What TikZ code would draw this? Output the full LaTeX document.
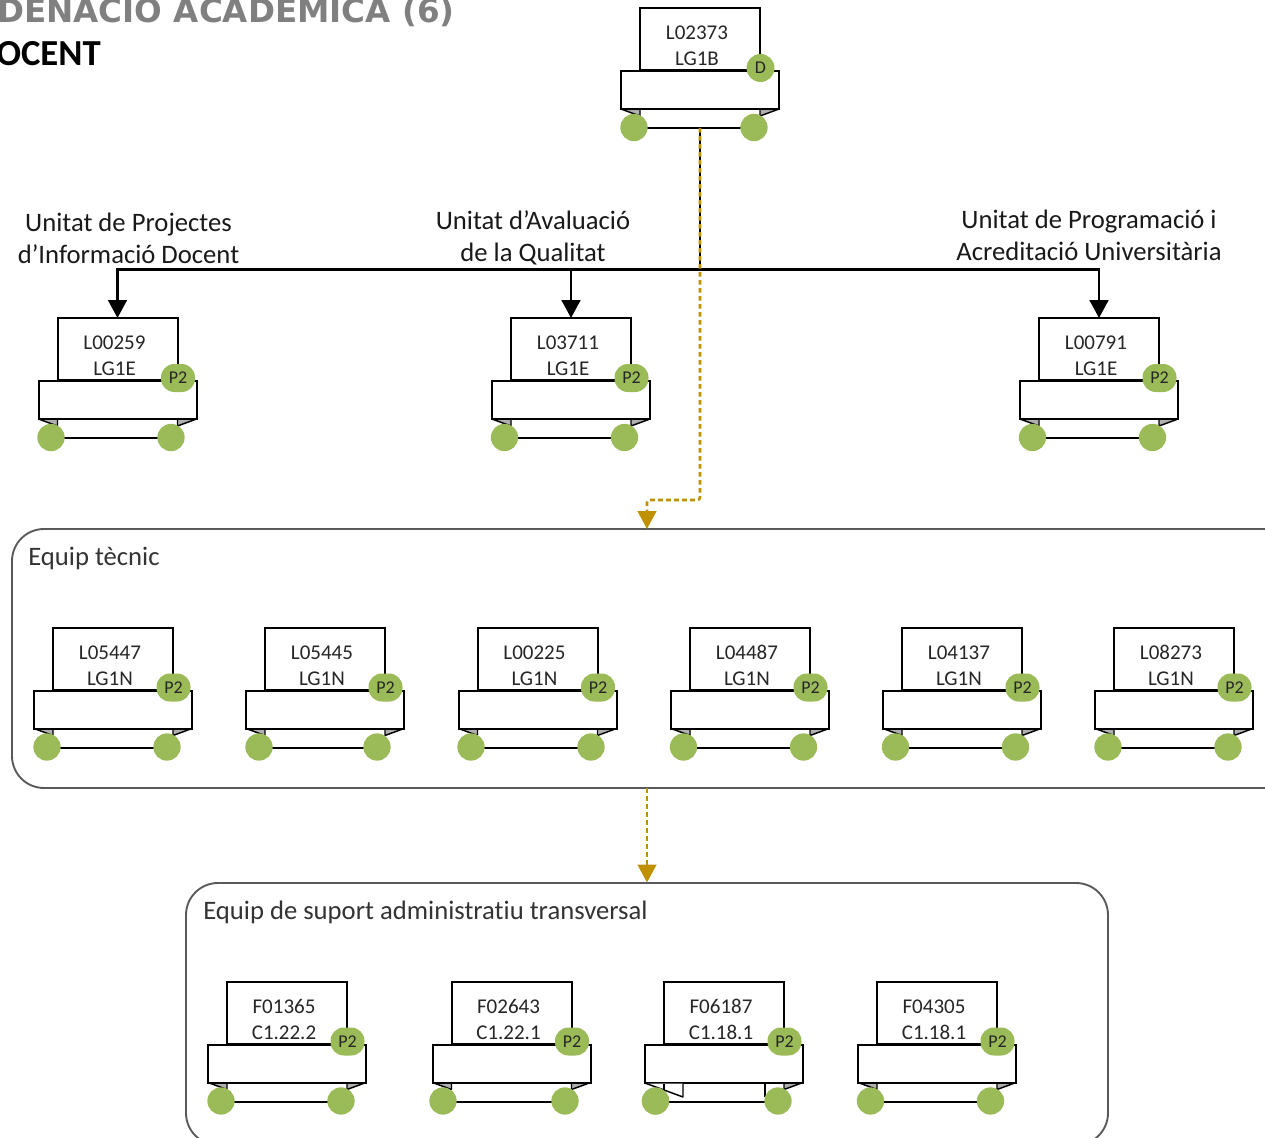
\documentclass[tikz,border=0pt]{standalone}
\usepackage{fontspec}
\setmainfont[Ligatures=NoCommon]{Carlito}
\newfontfamily\titlefont{DejaVu Sans}
\usetikzlibrary{arrows.meta}
\definecolor{leaf}{HTML}{9BBB59}
\definecolor{gold}{HTML}{BF9000}
\definecolor{groupline}{HTML}{595959}
\definecolor{flap}{HTML}{B0B0B0}
\tikzset{
  pagebox/.style={draw=black,line width=1.5pt,fill=white,minimum width=90pt,minimum height=46.5pt,inner sep=0pt,outer sep=0pt},
  barbox/.style={draw=black,line width=1.5pt,fill=white,minimum width=118.5pt,minimum height=28.5pt,inner sep=0pt,outer sep=0pt},
  wheel/.style={circle,fill=leaf,minimum size=20.5pt,inner sep=0pt},
  badgeP/.style={fill=leaf,rounded corners=10pt,minimum width=25.5pt,minimum height=21pt,inner sep=0pt,font=\fontsize{13.5pt}{15pt}\selectfont,text=black!85},
  badgeD/.style={circle,fill=leaf,minimum size=21pt,inner sep=0pt,font=\fontsize{13.5pt}{15pt}\selectfont,text=black!85},
  boxtext/.style={align=center,font=\fontsize{15.75pt}{19.5pt}\selectfont,text=black!85,inner sep=0pt},
  caption/.style={align=center,font=\fontsize{20pt}{24pt}\selectfont,text=black!90,inner sep=0pt},
  grouptitle/.style={anchor=west,font=\fontsize{20pt}{22pt}\selectfont,text=black!80,inner sep=0pt},
  groupbox/.style={draw=groupline,line width=1.4pt,rounded corners=24pt,inner sep=0pt,outer sep=0pt},
  flapfill/.style={fill=flap},
  flapedge/.style={draw=black,line width=1.1pt,line join=bevel},
  footline/.style={draw=black,line width=1.5pt},
  solidlink/.style={draw=black,line width=2.2pt},
  solidarrow/.style={solidlink,-{Triangle[length=13.5pt,width=14pt]}},
  goldlink/.style={draw=gold,line width=2pt,dash pattern=on 3.5pt off 2.5pt},
  goldarrow/.style={goldlink,-{Triangle[length=13.5pt,width=14pt,fill=gold,sep=0pt]}},
}
% name, page x, page y, left wheel x, right wheel x, line 1, line 2, badge style, badge text
\newcommand{\orgbox}[9]{%
  \fill[flapfill] (#2-19,#3+101) -- (#2,#3+108) -- (#2,#3+101) -- cycle;
  \fill[flapfill] (#2+139,#3+101) -- (#2+120,#3+108) -- (#2+120,#3+101) -- cycle;
  \path[flapedge] (#2-19,#3+101) -- (#2,#3+108) -- (#2,#3+101);
  \path[flapedge] (#2+139,#3+101) -- (#2+120,#3+108) -- (#2+120,#3+101);
  \path[footline] (#4,#3+120) -- (#5,#3+120);
  \node[pagebox] (#1-page) at (#2+60,#3+31) {};
  \node[barbox] (#1-bar) at (#2+60,#3+82) {};
  \node[boxtext] (#1-text) at (#2+57,#3+38) {#6\\#7};
  \node[wheel] (#1-left) at (#4,#3+119.5) {};
  \node[wheel] (#1-right) at (#5,#3+119.5) {};
  \node[#8] (#1-badge) at (#2+120.5,#3+60) {#9};
  \coordinate (#1-foot) at (#2+60,#3+120);
}
\begin{document}
\begin{tikzpicture}[x=0.75pt,y=-0.75pt]
\useasboundingbox (0,0) rectangle (1265,1138);
\begin{scope}
\clip (0,0) rectangle (1265,1138);

% headings
\node[anchor=base west,inner sep=0pt,text=black!50,font=\titlefont\bfseries\fontsize{24.4pt}{28pt}\selectfont] (heading) at (-3,23) {DENACIO ACADEMICA (6)};
\node[anchor=base west,inner sep=0pt,font=\bfseries\fontsize{27.5pt}{30pt}\selectfont] (subheading) at (-4,66) {OCENT};

% groups
\node[groupbox,minimum width=1290*0.75pt,minimum height=259*0.75pt] (team) at (657,658.5) {};
\node[groupbox,minimum width=922*0.75pt,minimum height=262*0.75pt] (support) at (647,1014) {};
\node[grouptitle] (teamtitle) at (28,558) {Equip tècnic};
\node[grouptitle] (supporttitle) at (203,912) {Equip de suport administratiu transversal};

% boxes
\orgbox{top}{640}{8}{634}{754}{L02373}{LG1B}{badgeD}{D}
\orgbox{aa}{57.5}{318}{51}{171}{L00259}{LG1E}{badgeP}{P2}
\orgbox{ab}{511}{318}{504.5}{624.5}{L03711}{LG1E}{badgeP}{P2}
\orgbox{ac}{1039}{318}{1032.5}{1152.5}{L00791}{LG1E}{badgeP}{P2}

\orgbox{ba}{53}{627.5}{47}{167}{L05447}{LG1N}{badgeP}{P2}
\orgbox{bb}{265}{627.5}{259}{377}{L05445}{LG1N}{badgeP}{P2}
\orgbox{bc}{477.5}{627.5}{471}{591}{L00225}{LG1N}{badgeP}{P2}
\orgbox{bd}{690}{627.5}{683.5}{803.5}{L04487}{LG1N}{badgeP}{P2}
\orgbox{be}{902}{627.5}{895.5}{1015.5}{L04137}{LG1N}{badgeP}{P2}
\orgbox{bf}{1114}{627.5}{1108}{1228}{L08273}{LG1N}{badgeP}{P2}

\orgbox{ca}{227}{981.5}{221}{341}{F01365}{C1.22.2}{badgeP}{P2}
\orgbox{cb}{451.5}{981.5}{443}{565}{F02643}{C1.22.1}{badgeP}{P2}
% F06187: wider inner fold
\draw[line width=1.5pt] (765,1083) -- (765,1097);
\orgbox{cc}{664}{981.5}{655.5}{778}{F06187}{C1.18.1}{badgeP}{P2}
\fill[white] (645,1083.5) -- (683,1097) -- (683,1083.5) -- cycle;
\draw[line width=1.1pt,line join=bevel] (645,1083) -- (683,1097) -- (683,1083.5);
\draw[line width=1.5pt] (664,1084) -- (664,1090.5);
\node[wheel] (cc-left2) at (655.5,1101) {};
\orgbox{cd}{877}{981.5}{870.5}{990.5}{F04305}{C1.18.1}{badgeP}{P2}

% captions
\node[caption] (capa) at (128.5,238) {Unitat de Projectes\\d’Informació Docent};
\node[caption] (capb) at (533,237.5) {Unitat d’Avaluació\\de la Qualitat};
\node[caption] (capc) at (1089,235) {Unitat de Programació i\\Acreditació Universitària};

% connectors
\coordinate (junction) at (700,269.5);
\coordinate (bend) at (700,500);
\coordinate (teamin) at (647,529);
\coordinate (teamout) at (647,788);
\coordinate (supportin) at (647,882.5);
\path[solidlink] (top-foot) -- (junction);
\path[solidarrow] (junction) -| (aa-page.north);
\path[solidarrow] (junction) -| (ab-page.north);
\path[solidarrow] (junction) -| (ac-page.north);
\path[goldarrow,rounded corners=2pt] (top-foot) -- (bend) -| (teamin);
\path[goldarrow] (teamout) -- (supportin);
\end{scope}
\end{tikzpicture}
\end{document}
